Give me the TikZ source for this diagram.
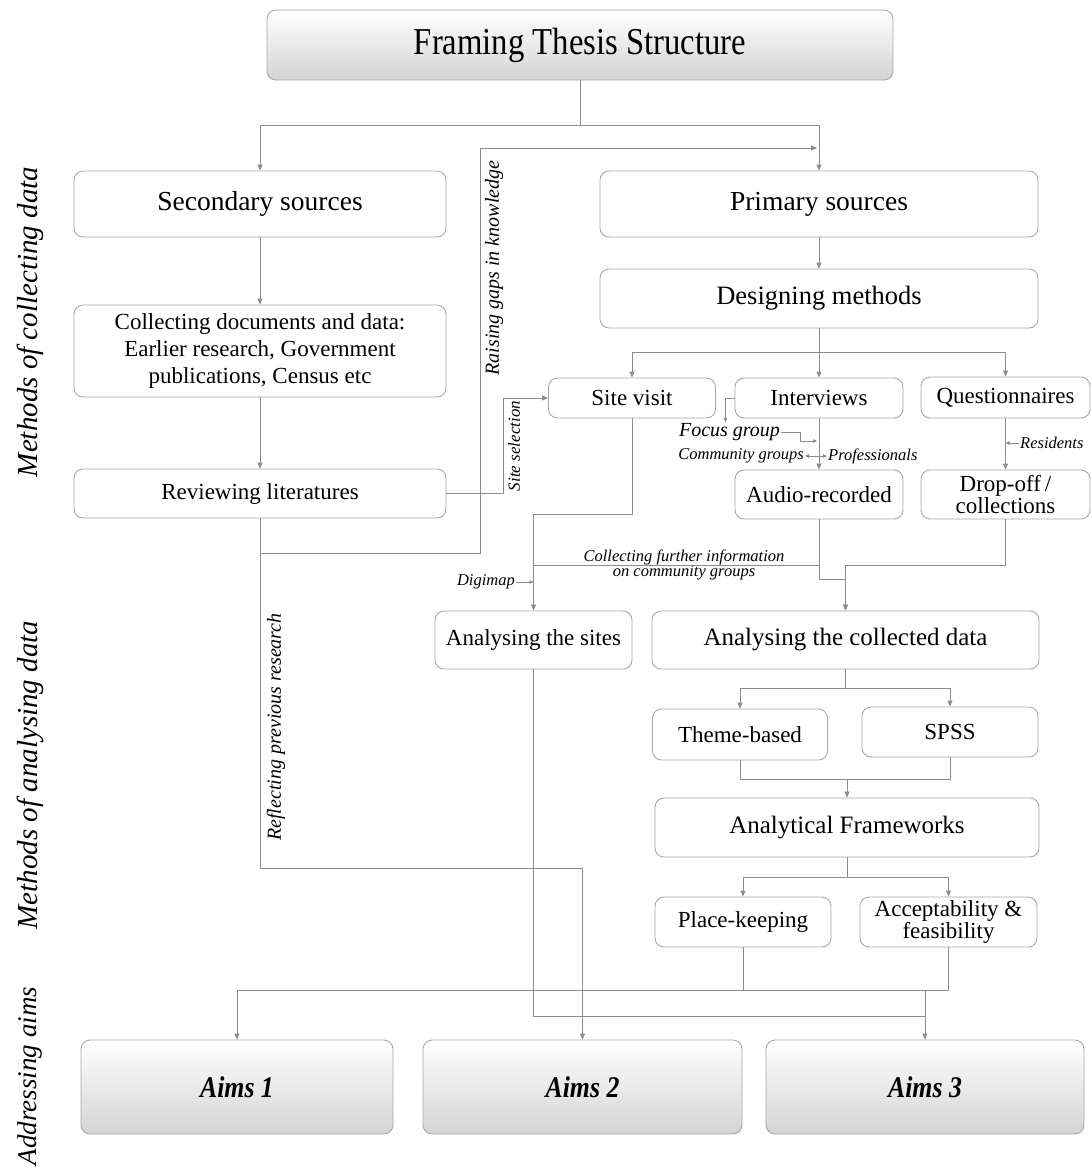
\documentclass[tikz,border=0pt]{standalone}
\usepackage{fontspec}
\setmainfont{Liberation Serif}
\newfontfamily\ftsnarrow{Liberation Serif}[FakeStretch=0.86]
\usetikzlibrary{arrows.meta}
\definecolor{ftsLine}{HTML}{8C8C8C}
\definecolor{ftsEdge}{HTML}{A8A8A8}
\definecolor{ftsShade}{HTML}{D4D4D4}
\tikzset{
  fts box/.style={draw=ftsEdge, fill=white, rounded corners=9pt, line width=0.9pt, align=center, inner sep=1pt, font=\fontsize{23}{27}\selectfont},
  fts big/.style={fts box, font=\fontsize{27.5}{31}\selectfont},
  fts mid/.style={fts box, font=\fontsize{25}{29}\selectfont},
  fts head/.style={fts box, top color=white, bottom color=ftsShade, font=\ftsnarrow\fontsize{38}{42}\selectfont},
  fts aim/.style={fts box, top color=white, bottom color=ftsShade, font=\ftsnarrow\bfseries\itshape\fontsize{30}{34}\selectfont},
  fts link/.style={draw=ftsLine, line width=0.9pt, -{Triangle[length=6pt,width=5pt]}},
  fts line/.style={draw=ftsLine, line width=0.9pt},
  fts tiny/.style={draw=ftsLine, line width=0.7pt, -{Triangle[length=4pt,width=3.5pt]}},
  fts note/.style={font=\itshape\fontsize{16.5}{15}\selectfont, inner sep=1pt, align=center},
  fts tall note/.style={font=\itshape\fontsize{20}{22}\selectfont, inner sep=1pt, rotate=90},
  fts side/.style={font=\itshape\fontsize{29}{32}\selectfont, rotate=90},
}

\begin{document}
\begin{tikzpicture}[x=1pt,y=-1pt]
  \useasboundingbox (0,0) rectangle (1092,1173);

  % row labels
  \node[fts side] (lblcollect) at (30,322) {Methods of collecting data};
  \node[fts side] (lblanalyse) at (30,775) {Methods of analysing data};
  \node[fts side, font=\itshape\fontsize{27}{30}\selectfont] (lblaims) at (30,1076) {Addressing aims};

  % boxes
  \node[fts head, minimum width=626pt, minimum height=70pt] (title) at (580,45) {Framing Thesis Structure};
  \node[fts big, minimum width=372pt, minimum height=66pt] (sec) at (260,204) {Secondary sources};
  \node[fts box, minimum width=372pt, minimum height=92pt] (col) at (260,351) {Collecting documents and data:\\Earlier research, Government\\publications, Census etc};
  \node[fts box, minimum width=372pt, minimum height=49pt] (rev) at (260,493.5) {Reviewing literatures};
  \node[fts big, minimum width=438pt, minimum height=66pt] (pri) at (819,204) {Primary sources};
  \node[fts box, font=\fontsize{26.5}{30}\selectfont, minimum width=438pt, minimum height=59pt] (des) at (819,298.5) {Designing methods};
  \node[fts box, minimum width=167pt, minimum height=40pt] (site) at (632,398) {Site visit};
  \node[fts box, minimum width=168pt, minimum height=40pt] (int) at (819,398) {Interviews};
  \node[fts box, minimum width=169pt, minimum height=41pt] (que) at (1005.5,397.5) {Questionnaires};
  \node[fts box, minimum width=168pt, minimum height=49pt] (aud) at (819,494.5) {Audio-recorded};
  \node[fts box, font=\fontsize{23}{19}\selectfont, minimum width=169pt, minimum height=49pt] (drop) at (1005.5,494.5) {Drop-off\,/\\collections};
  \node[fts box, minimum width=197pt, minimum height=58pt] (ansite) at (533.5,640) {Analysing the sites};
  \node[fts mid, minimum width=387pt, minimum height=58pt] (andata) at (845.5,640) {Analysing the collected data};
  \node[fts box, minimum width=175pt, minimum height=51pt] (theme) at (740,734.5) {Theme-based};
  \node[fts box, minimum width=176pt, minimum height=50pt] (spss) at (950,732) {SPSS};
  \node[fts mid, minimum width=384pt, minimum height=59pt] (frame) at (847,827.5) {Analytical Frameworks};
  \node[fts box, minimum width=176pt, minimum height=50pt] (place) at (743,922) {Place-keeping};
  \node[fts box, font=\fontsize{23}{20}\selectfont, minimum width=177pt, minimum height=50pt] (accept) at (948.5,922) {Acceptability \&\\feasibility};
  \node[fts aim, minimum width=312pt, minimum height=94pt] (aim1) at (237,1087) {Aims 1};
  \node[fts aim, minimum width=319pt, minimum height=94pt] (aim2) at (582.5,1087) {Aims 2};
  \node[fts aim, minimum width=318pt, minimum height=94pt] (aim3) at (925,1087) {Aims 3};

  % small labels
  \node[fts tall note] (gapnote) at (494,268) {Raising gaps in knowledge};
  \node[fts tall note] (reflectnote) at (276,727) {Reflecting previous research};
  \node[fts note, font=\itshape\fontsize{17}{17}\selectfont, rotate=90] (selnote) at (514,446) {Site selection};
  \node[fts note, font=\itshape\fontsize{20}{22}\selectfont] (focus) at (729.5,432) {Focus group};
  \node[fts note, anchor=east] (comm) at (805,456) {Community groups};
  \node[fts note, anchor=west] (prof) at (827,456) {Professionals};
  \node[fts note, anchor=west] (res) at (1019,443) {Residents};
  \node[fts note, anchor=east] (digi) at (516,582) {Digimap};
  \node[fts note] (further) at (684,565) {Collecting further information\\on community groups};

  % junctions
  \coordinate (split1) at (580,125);
  \coordinate (split2) at (819,352);
  \coordinate (split3) at (845.5,688);
  \coordinate (merge1) at (847,779);
  \coordinate (split4) at (847,877);
  \coordinate (revdown) at (260,553);
  \coordinate (gapturn) at (480,148);
  \coordinate (gapend) at (817,148);
  \coordinate (reflect) at (260,868);
  \coordinate (selturn) at (503,493.5);
  \coordinate (focusin) at (817,441);
  \coordinate (sitebend) at (632,514);
  \coordinate (audbend) at (819,579);
  \coordinate (dropbend) at (1005.5,565);
  \coordinate (bus) at (948.5,990);
  \coordinate (lowbus) at (925,1016);

  % connectors
  \draw[fts link] (title) -- (split1) -| (sec);
  \draw[fts link] (split1) -| (pri);
  \draw[fts link] (sec) -- (col);
  \draw[fts link] (col) -- (rev);
  \draw[fts link] (pri) -- (des);
  \draw[fts link] (des) -- (split2) -| (site);
  \draw[fts link] (split2) -| (que);
  \draw[fts link] (split2) -- (int);
  \draw[fts link] (rev) -- (revdown) -| (gapturn) -- (gapend);
  \draw[fts link] (revdown) -- (reflect) -| (aim2);
  \draw[fts link] (rev) -- (selturn) |- (site);
  \draw[fts tiny] (int.west) -| ([xshift=-4pt]focus.north);
  \draw[fts tiny] (focus.east) -- ++(19,0) |- (focusin);
  \draw[fts line, {Triangle[length=4pt,width=3.5pt]}-{Triangle[length=4pt,width=3.5pt]}] (comm) -- (prof);
  \draw[fts link] (int) -- (aud);
  \draw[fts link] (que) -- (drop);
  \draw[fts tiny] (res) -- (que |- res);
  \draw[fts link] (site) -- (sitebend) -| (ansite);
  \draw[fts tiny] (digi) -- (ansite |- digi);
  \draw[fts line] (aud |- dropbend) -- (ansite |- dropbend);
  \draw[fts link] (aud) -- (audbend) -| (andata);
  \draw[fts link] (drop) -- (dropbend) -| (andata);
  \draw[fts link] (andata) -- (split3) -| (theme);
  \draw[fts link] (split3) -| (spss);
  \draw[fts line] (theme) |- (merge1);
  \draw[fts link] (spss) |- (merge1) -- (frame);
  \draw[fts link] (frame) -- (split4) -| (place);
  \draw[fts link] (split4) -| (accept);
  \draw[fts line] (place) -- (place |- bus);
  \draw[fts link] (accept) -- (bus) -| (aim1);
  \draw[fts link] (aim3 |- bus) -- (aim3);
  \draw[fts line] (ansite) |- (lowbus);
\end{tikzpicture}
\end{document}
